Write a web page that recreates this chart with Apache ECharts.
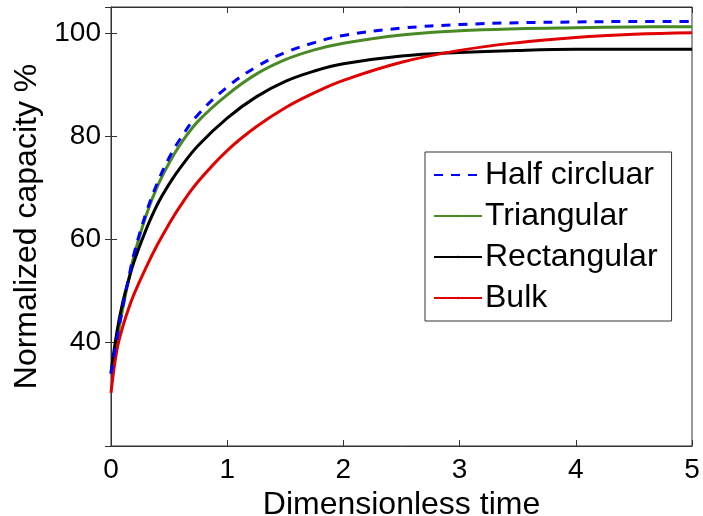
<!DOCTYPE html>
<html>
<head>
<meta charset="utf-8">
<script src="https://cdn.jsdelivr.net/npm/echarts@6/dist/echarts.min.js"></script>
<style>html,body{margin:0;padding:0;background:#fff}#c{width:703px;height:516px}</style>
</head>
<body>
<div id="c"></div>
<script>
const times = [0, 0.05, 0.1, 0.15, 0.2, 0.3, 0.4, 0.5, 0.6, 0.75, 1, 1.25, 1.5, 1.75, 2, 2.5, 3, 3.5, 4, 4.5, 5];
const halfCircular = [34, 40.7, 46.8, 52.3, 57.4, 65, 71, 75.8, 79.6, 84.2, 89.5, 93.4, 96.2, 98.1, 99.5, 100.9, 101.6, 101.95, 102.1, 102.2, 102.2];
const triangular = [34, 40.5, 46.5, 52, 57, 64.5, 70.3, 74.8, 78.5, 82.9, 88.0, 92.0, 94.8, 96.7, 98.0, 99.6, 100.4, 100.8, 101.0, 101.15, 101.2];
const rectangular = [34.2, 42, 47.7, 52, 55.8, 61.8, 66.8, 70.7, 74, 78.2, 83.5, 87.6, 90.6, 92.6, 94.0, 95.5, 96.2, 96.6, 96.8, 96.8, 96.8];
const bulk = [30.3, 38.5, 43, 46.5, 49.5, 54.5, 59, 63, 66.6, 71.2, 77.2, 81.8, 85.5, 88.4, 90.8, 94.3, 96.6, 98.1, 99.1, 99.7, 100.0];
const seriesNames = ['Half circluar', 'Triangular', 'Rectangular', 'Bulk'];
const xTicks = [0, 1, 2, 3, 4, 5];
const yTicks = [40, 60, 80, 100];

const pair = arr => times.map((t, i) => [t, arr[i]]);
const FONT = 'Liberation Sans, Arial, Helvetica, sans-serif';
const axisCol = '#333';

const chart = echarts.init(document.getElementById('c'), null, {renderer: 'canvas'});
function mkLine(name, data, color, dashed) {
  return {
    name, type: 'line', data: pair(data), xAxisIndex: 0, yAxisIndex: 0,
    symbol: 'none', smooth: 0.4,
    lineStyle: {color, width: 3, type: dashed ? [9, 8] : 'solid'},
    itemStyle: {color}, z: dashed ? 5 : 3
  };
}
chart.setOption({
  animation: false,
  backgroundColor: '#fff',
  grid: {left: 111, right: 11, top: 7, bottom: 70, show: true, borderColor: axisCol, borderWidth: 1,
    containLabel: false, outerBoundsMode: 'none'},
  legend: {
    orient: 'vertical', left: 425, top: 152,
    itemWidth: 48, itemHeight: 3, itemGap: 9,
    padding: [7, 14, 7, 8],
    borderColor: '#333', borderWidth: 1, backgroundColor: '#fff',
    textStyle: {fontFamily: FONT, fontSize: 32, color: '#000', lineHeight: 32, padding: [0, 0, 0, -2]},
    data: seriesNames.map(n => ({name: n}))
  },
  xAxis: [{
    type: 'value', min: 0, max: 5, interval: 1,
    name: 'Dimensionless time', nameLocation: 'middle', nameGap: 35,
    nameTextStyle: {fontFamily: FONT, fontSize: 32, color: '#000'},
    axisLine: {show: true, lineStyle: {color: axisCol}},
    axisTick: {show: true, inside: true, length: 6, lineStyle: {color: axisCol}},
    axisLabel: {fontFamily: FONT, fontSize: 28, color: '#000', margin: 10,
      formatter: v => xTicks.includes(v) ? String(v) : ''},
    splitLine: {show: false}
  }, {
    type: 'value', min: 0, max: 5, interval: 1, position: 'top',
    axisLine: {show: true, lineStyle: {color: axisCol}},
    axisTick: {show: true, inside: true, length: 6, lineStyle: {color: axisCol}},
    axisLabel: {show: false}, splitLine: {show: false}
  }],
  yAxis: [{
    type: 'value', min: 20, max: 105, interval: 20,
    name: 'Normalized capacity %', nameLocation: 'middle', nameGap: 66,
    nameTextStyle: {fontFamily: FONT, fontSize: 32, color: '#000'},
    axisLine: {show: true, lineStyle: {color: axisCol}},
    axisTick: {show: true, inside: true, length: 6, lineStyle: {color: axisCol}},
    axisLabel: {fontFamily: FONT, fontSize: 28, color: '#000', margin: 10, showMinLabel: false, showMaxLabel: false,
      formatter: v => yTicks.includes(v) ? String(v) : ''},
    splitLine: {show: false}
  }, {
    type: 'value', min: 20, max: 105, interval: 20, position: 'right',
    axisLine: {show: true, lineStyle: {color: axisCol}},
    axisTick: {show: true, inside: true, length: 6, lineStyle: {color: axisCol}},
    axisLabel: {show: false}, splitLine: {show: false}
  }],
  series: [
    mkLine(seriesNames[0], halfCircular, '#0000ff', true),
    mkLine(seriesNames[1], triangular, '#4a8a26', false),
    mkLine(seriesNames[2], rectangular, '#000000', false),
    mkLine(seriesNames[3], bulk, '#e00000', false)
  ]
});
</script>
</body>
</html>
